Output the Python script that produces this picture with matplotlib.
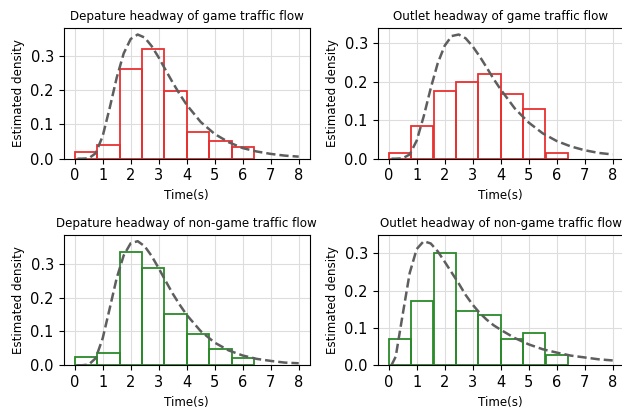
import matplotlib
matplotlib.use("Agg")
import matplotlib.pyplot as plt
import numpy as np

# histogram bins (s) and bar heights
bin_edges = [0, 0.8, 1.6, 2.4, 3.2, 4.0, 4.8, 5.6, 6.4]
dep_game = [0.020, 0.040, 0.261, 0.319, 0.196, 0.078, 0.053, 0.033]
out_game = [0.014, 0.086, 0.175, 0.200, 0.219, 0.168, 0.130, 0.014]
dep_nongame = [0.025, 0.036, 0.334, 0.287, 0.151, 0.092, 0.048, 0.021]
out_nongame = [0.070, 0.172, 0.300, 0.146, 0.134, 0.070, 0.086, 0.027]

# fitted density curves (dashed), read at these times
curve_x = [0.1, 0.25, 0.5, 0.75, 1.0, 1.25, 1.5, 1.75, 2.0, 2.25, 2.5, 2.75,
           3.0, 3.25, 3.5, 3.75, 4.0, 4.5, 5.0, 5.5, 6.0, 6.5, 7.0, 7.5, 8.0]
fit_dep_game = [0.0, 0.0, 0.001, 0.016, 0.066, 0.148, 0.236, 0.307, 0.349, 0.362,
                0.353, 0.328, 0.295, 0.258, 0.222, 0.188, 0.157, 0.107, 0.072,
                0.048, 0.031, 0.021, 0.014, 0.009, 0.006]
fit_out_game = [0.0, 0.0, 0.001, 0.011, 0.047, 0.110, 0.183, 0.248, 0.294, 0.319,
                0.323, 0.313, 0.292, 0.266, 0.237, 0.207, 0.180, 0.131, 0.094,
                0.066, 0.046, 0.032, 0.022, 0.015, 0.011]
fit_dep_nongame = [0.0, 0.0, 0.002, 0.021, 0.080, 0.168, 0.258, 0.325, 0.361, 0.367,
                   0.352, 0.323, 0.287, 0.249, 0.212, 0.179, 0.149, 0.101, 0.067,
                   0.044, 0.029, 0.019, 0.013, 0.008, 0.006]
fit_out_nongame = [0.0005, 0.023, 0.136, 0.247, 0.311, 0.332, 0.326, 0.305, 0.277, 0.248,
                   0.219, 0.188, 0.162, 0.140, 0.122, 0.107, 0.095, 0.073, 0.056,
                   0.043, 0.034, 0.026, 0.021, 0.016, 0.013]

titles = ["Depature headway of game traffic flow",
          "Outlet headway of game traffic flow",
          "Depature headway of non-game traffic flow",
          "Outlet headway of non-game traffic flow"]

fig = plt.figure(figsize=(6.22, 4.12), dpi=100)

W, H = 622, 412
# axes boxes in pixels: left, top, width, height
boxes = [(63.5, 28.3, 246.4, 130.4), (377.5, 28.3, 246.4, 130.4),
         (63.5, 235.0, 246.4, 130.3), (377.5, 235.0, 246.4, 130.3)]
hists = [dep_game, out_game, dep_nongame, out_nongame]
fits = [fit_dep_game, fit_out_game, fit_dep_nongame, fit_out_nongame]
colors = ["#e83030", "#e83030", "#2a8a2a", "#2a8a2a"]

lefts = bin_edges[:-1]
widths = np.diff(bin_edges)

for box, h, f, c, t in zip(boxes, hists, fits, colors, titles):
    l, top, w, hh = box
    ax = fig.add_axes([l / W, 1 - (top + hh) / H, w / W, hh / H])
    ax.grid(True, color="#dddddd", linewidth=0.8)
    ax.set_axisbelow(True)
    ax.bar(lefts, h, width=widths, align="edge", fill=False,
           edgecolor=c, linewidth=1.3)
    ax.plot(curve_x, f, linestyle="--", color="#5e5e5e", linewidth=1.8)
    ax.set_ylim(bottom=0)
    ax.set_xticks(range(9))
    ax.set_yticks([0.0, 0.1, 0.2, 0.3])
    ax.tick_params(labelsize=10.5)
    ax.set_title(t, fontsize=8.6)
    ax.set_xlabel("Time(s)", fontsize=8.6)
    ax.set_ylabel("Estimated density", fontsize=8.6)

fig.savefig("out.png", dpi=100)
